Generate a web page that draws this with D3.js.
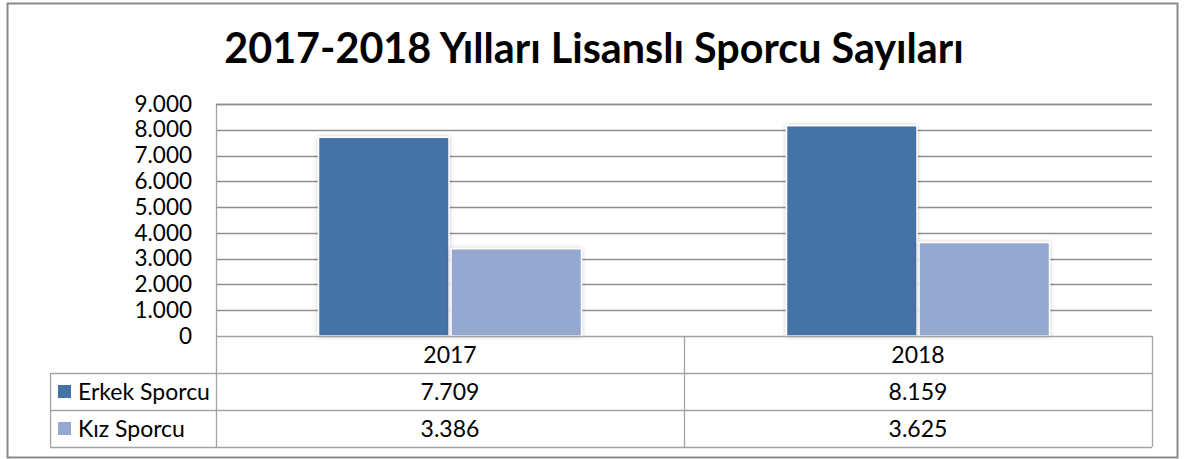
<!DOCTYPE html>
<html><head><meta charset="utf-8">
<script src="https://cdn.jsdelivr.net/npm/d3@7"></script>
<style>html,body{margin:0;padding:0;background:#fff;}svg{display:block;}</style>
</head><body>
<script>
const title = "2017-2018 Yılları Lisanslı Sporcu Sayıları";
const categories = ["2017", "2018"];
const seriesNames = ["Erkek Sporcu", "Kız Sporcu"];
const erkekValues = [7709, 8159];
const kizValues = [3386, 3625];
const tickValues = [0, 1000, 2000, 3000, 4000, 5000, 6000, 7000, 8000, 9000];
const seriesColors = ["#4572A7", "#95A9D0"];

const seriesValues = [erkekValues, kizValues];
const W = 1184, H = 459;
const FONT = "Lato, 'Open Sans', sans-serif";
const fmt = v => d3.format(",")(v).replace(/,/g, ".");

const svg = d3.select("body").append("svg").attr("width", W).attr("height", H);
svg.append("rect").attr("width", W).attr("height", H).attr("fill", "#fff");
// outer frame
svg.append("rect").attr("x", 7.5).attr("y", 3.5).attr("width", 1170).attr("height", 454)
  .attr("fill", "none").attr("stroke", "#8a8a8a").attr("stroke-width", 2);

const plot = {left: 216, right: 1152, top: 104, bottom: 336};
const y = d3.scaleLinear().domain([0, 9000]).range([plot.bottom, plot.top]);
const x0 = d3.scaleBand().domain(categories).range([plot.left, plot.right]).padding(0);
const x1 = d3.scaleBand().domain(seriesNames).range([0, x0.bandwidth()]).paddingInner(0).paddingOuter(0.766);

// title
svg.append("text").attr("x", 594).attr("y", 63).attr("text-anchor", "middle")
  .attr("font-family", FONT).attr("font-weight", "bold").attr("font-size", 41.3).attr("fill", "#000")
  .text(title);

// gridlines
const gridColor = "#8f8f8f";
svg.append("g").selectAll("line").data(tickValues.filter(d => d > 0)).join("line")
  .attr("x1", plot.left).attr("x2", plot.right)
  .attr("y1", d => Math.round(y(d)) + 0.5).attr("y2", d => Math.round(y(d)) + 0.5)
  .attr("stroke", gridColor).attr("stroke-width", 1.5);

// y axis
const yAxis = d3.axisLeft(y).tickValues(tickValues).tickSize(0).tickPadding(24).tickFormat(fmt);
const ga = svg.append("g").attr("transform", `translate(${plot.left},0)`).call(yAxis);
ga.select(".domain").remove();
ga.selectAll("text").attr("font-family", FONT).attr("font-size", 22.5).attr("fill", "#000");

// shadow filter
const defs = svg.append("defs");
const f = defs.append("filter").attr("id", "sh").attr("x", "-10%").attr("y", "-10%").attr("width", "120%").attr("height", "120%");
f.append("feGaussianBlur").attr("in", "SourceAlpha").attr("stdDeviation", 2).attr("result", "b");
f.append("feOffset").attr("in", "b").attr("dx", 0).attr("dy", 0).attr("result", "o");
f.append("feComponentTransfer").attr("in", "o").attr("result", "o2").append("feFuncA").attr("type", "linear").attr("slope", 0.25);
const m = f.append("feMerge"); m.append("feMergeNode").attr("in", "o2"); m.append("feMergeNode").attr("in", "SourceGraphic");

// bars
const groups = svg.append("g").selectAll("g").data(categories).join("g")
  .attr("transform", d => `translate(${x0(d)},0)`);
groups.selectAll("rect").data((c, ci) => seriesNames.map((s, si) => ({s, si, v: seriesValues[si][ci]}))).join("rect")
  .attr("x", d => x1(d.s) + 1).attr("width", x1.bandwidth() - 2)
  .attr("y", d => y(d.v)).attr("height", d => y(0) - y(d.v))
  .attr("fill", d => seriesColors[d.si]).attr("stroke", "#fff").attr("stroke-width", 1.5)
  .attr("filter", "url(#sh)");

// data table
const lineColor = "#a3a3a3";
const rowTop = plot.bottom, rowH = 37;
const rows = [rowTop, rowTop + rowH, rowTop + 2 * rowH, rowTop + 3 * rowH];
const legLeft = 50;
const TFS = 23;
const tl = svg.append("g").attr("stroke", lineColor).attr("stroke-width", 1.3);
tl.append("line").attr("x1", plot.left + 0.5).attr("x2", plot.left + 0.5).attr("y1", plot.top).attr("y2", rows[3]);
tl.append("line").attr("x1", plot.left).attr("x2", plot.right).attr("y1", rows[0] + 0.5).attr("y2", rows[0] + 0.5);
tl.append("line").attr("x1", plot.left).attr("x2", plot.right).attr("y1", plot.top + 0.5).attr("y2", plot.top + 0.5).attr("stroke", gridColor).attr("stroke-width", 1.5);
[1, 2, 3].forEach(i => tl.append("line").attr("x1", legLeft).attr("x2", plot.right).attr("y1", rows[i] + 0.5).attr("y2", rows[i] + 0.5));
tl.append("line").attr("x1", legLeft + 0.5).attr("x2", legLeft + 0.5).attr("y1", rows[1]).attr("y2", rows[3]);
categories.forEach(c => {
  tl.append("line").attr("x1", x0(c) + x0.bandwidth() + 0.5).attr("x2", x0(c) + x0.bandwidth() + 0.5).attr("y1", rows[0]).attr("y2", rows[3]);
});
// category labels
svg.append("g").selectAll("text").data(categories).join("text")
  .attr("x", d => x0(d) + x0.bandwidth() / 2).attr("y", rows[0] + 27)
  .attr("text-anchor", "middle").attr("font-family", FONT).attr("font-size", TFS).attr("fill", "#000").text(d => d);
// values
seriesNames.forEach((s, si) => {
  svg.append("g").selectAll("text").data(categories).join("text")
    .attr("x", d => x0(d) + x0.bandwidth() / 2).attr("y", rows[si + 1] + 27)
    .attr("text-anchor", "middle").attr("font-family", FONT).attr("font-size", TFS).attr("fill", "#000")
    .text((d, ci) => fmt(seriesValues[si][ci]));
  svg.append("rect").attr("x", 58).attr("y", rows[si + 1] + 12).attr("width", 13).attr("height", 13)
    .attr("fill", seriesColors[si]);
  svg.append("text").attr("x", 78).attr("y", rows[si + 1] + 27)
    .attr("font-family", FONT).attr("font-size", TFS).attr("fill", "#000").text(s);
});
</script>
</body></html>
